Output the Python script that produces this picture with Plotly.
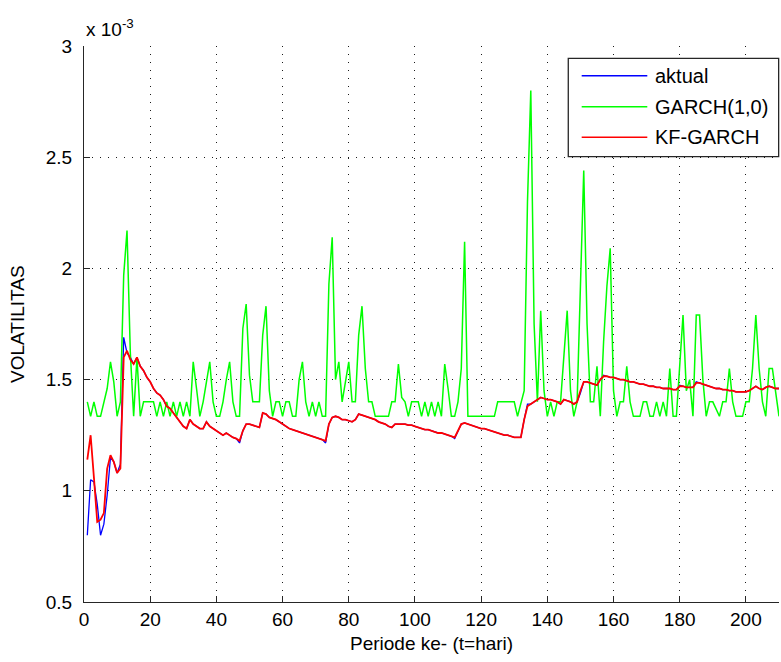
import plotly.graph_objects as go

# Values are in units of 10^-3
periode = list(range(1, 211))

garch = [
    1.40, 1.335, 1.40, 1.335, 1.335, 1.40, 1.46, 1.58, 1.49, 1.335,
    1.40, 1.97, 2.17, 1.62, 1.335, 1.60, 1.335, 1.40, 1.40, 1.40,
    1.40, 1.335, 1.40, 1.335, 1.40, 1.335, 1.40, 1.335, 1.40, 1.335,
    1.40, 1.335, 1.58, 1.46, 1.335, 1.40, 1.50, 1.58, 1.40, 1.335,
    1.335, 1.40, 1.50, 1.58, 1.40, 1.335, 1.335, 1.73, 1.84, 1.52,
    1.40, 1.40, 1.40, 1.70, 1.83, 1.45, 1.335, 1.40, 1.40, 1.335,
    1.40, 1.40, 1.335, 1.335, 1.50, 1.58, 1.40, 1.335, 1.40, 1.335,
    1.40, 1.335, 1.335, 1.93, 2.14, 1.50, 1.58, 1.40, 1.50, 1.58,
    1.40, 1.40, 1.70, 1.83, 1.55, 1.40, 1.40, 1.335, 1.335, 1.335,
    1.335, 1.335, 1.40, 1.40, 1.57, 1.42, 1.40, 1.335, 1.40, 1.40,
    1.40, 1.335, 1.40, 1.335, 1.40, 1.335, 1.40, 1.335, 1.57, 1.46,
    1.335, 1.335, 1.40, 1.55, 2.12, 1.335, 1.335, 1.335, 1.335, 1.335,
    1.335, 1.335, 1.335, 1.335, 1.40, 1.40, 1.40, 1.40, 1.40, 1.40,
    1.335, 1.40, 1.45, 2.30, 2.80, 1.75, 1.40, 1.81, 1.45, 1.335,
    1.40, 1.335, 1.40, 1.40, 1.60, 1.81, 1.45, 1.335, 1.40, 1.95,
    2.44, 1.75, 1.40, 1.40, 1.56, 1.335, 1.67, 1.92, 2.09, 1.45,
    1.335, 1.40, 1.40, 1.56, 1.40, 1.335, 1.335, 1.335, 1.40, 1.40,
    1.335, 1.335, 1.40, 1.335, 1.40, 1.335, 1.55, 1.335, 1.335, 1.55,
    1.79, 1.45, 1.50, 1.335, 1.79, 1.79, 1.50, 1.335, 1.40, 1.40,
    1.37, 1.335, 1.40, 1.40, 1.55, 1.40, 1.335, 1.335, 1.335, 1.40,
    1.40, 1.55, 1.79, 1.55, 1.40, 1.335, 1.55, 1.55, 1.45, 1.335,
]

kf_garch = [
    1.14, 1.25, 1.06, 0.86, 0.87, 0.90, 1.10, 1.16, 1.13, 1.08,
    1.10, 1.60, 1.63, 1.59, 1.57, 1.60, 1.56, 1.54, 1.51, 1.49,
    1.46, 1.44, 1.43, 1.41, 1.38, 1.37, 1.35, 1.33, 1.31, 1.29,
    1.28, 1.32, 1.30, 1.29, 1.28, 1.28, 1.31, 1.29, 1.28, 1.27,
    1.26, 1.25, 1.26, 1.25, 1.24, 1.235, 1.225, 1.27, 1.30, 1.30,
    1.295, 1.29, 1.285, 1.35, 1.345, 1.33, 1.325, 1.32, 1.31, 1.30,
    1.29, 1.28, 1.275, 1.27, 1.265, 1.26, 1.255, 1.25, 1.245, 1.24,
    1.235, 1.23, 1.225, 1.30, 1.33, 1.335, 1.33, 1.32, 1.32, 1.315,
    1.31, 1.32, 1.345, 1.34, 1.335, 1.33, 1.325, 1.32, 1.31, 1.305,
    1.30, 1.29, 1.285, 1.30, 1.30, 1.30, 1.30, 1.295, 1.295, 1.29,
    1.285, 1.28, 1.275, 1.275, 1.27, 1.265, 1.26, 1.26, 1.255, 1.25,
    1.245, 1.24, 1.27, 1.30, 1.305, 1.30, 1.295, 1.29, 1.285, 1.28,
    1.28, 1.275, 1.27, 1.265, 1.26, 1.255, 1.25, 1.25, 1.245, 1.24,
    1.24, 1.24, 1.32, 1.38, 1.39, 1.40, 1.41, 1.42, 1.415, 1.41,
    1.41, 1.405, 1.40, 1.39, 1.41, 1.405, 1.40, 1.39, 1.40, 1.45,
    1.49, 1.49, 1.485, 1.48, 1.475, 1.50, 1.515, 1.515, 1.51, 1.51,
    1.505, 1.50, 1.50, 1.495, 1.49, 1.49, 1.485, 1.48, 1.48, 1.475,
    1.47, 1.47, 1.465, 1.465, 1.46, 1.46, 1.46, 1.455, 1.455, 1.47,
    1.47, 1.465, 1.465, 1.465, 1.485, 1.485, 1.48, 1.475, 1.47, 1.465,
    1.46, 1.46, 1.455, 1.455, 1.45, 1.45, 1.445, 1.445, 1.445, 1.445,
    1.45, 1.46, 1.47, 1.46, 1.455, 1.465, 1.47, 1.465, 1.46, 1.46,
]

aktual = [
    0.80, 1.05, 1.04, 0.94, 0.80, 0.85, 0.98, 1.15, 1.13, 1.08,
    1.12, 1.69, 1.62, 1.60, 1.57, 1.60, 1.56, 1.54, 1.51, 1.49,
    1.46, 1.44, 1.43, 1.41, 1.38, 1.37, 1.35, 1.33, 1.31, 1.29,
    1.28, 1.32, 1.30, 1.29, 1.28, 1.28, 1.31, 1.29, 1.28, 1.27,
    1.26, 1.25, 1.26, 1.25, 1.24, 1.235, 1.215, 1.27, 1.30, 1.30,
    1.295, 1.29, 1.285, 1.35, 1.345, 1.33, 1.325, 1.32, 1.31, 1.30,
    1.29, 1.28, 1.275, 1.27, 1.265, 1.26, 1.255, 1.25, 1.245, 1.24,
    1.235, 1.23, 1.215, 1.30, 1.33, 1.335, 1.33, 1.32, 1.32, 1.315,
    1.31, 1.32, 1.345, 1.34, 1.335, 1.33, 1.325, 1.32, 1.31, 1.305,
    1.30, 1.29, 1.285, 1.30, 1.30, 1.30, 1.30, 1.295, 1.295, 1.29,
    1.285, 1.28, 1.275, 1.275, 1.27, 1.265, 1.26, 1.26, 1.255, 1.25,
    1.245, 1.235, 1.27, 1.30, 1.305, 1.30, 1.295, 1.29, 1.285, 1.28,
    1.28, 1.275, 1.27, 1.265, 1.26, 1.255, 1.25, 1.25, 1.245, 1.24,
    1.24, 1.24, 1.32, 1.39, 1.39, 1.40, 1.41, 1.42, 1.415, 1.41,
    1.41, 1.405, 1.40, 1.39, 1.41, 1.405, 1.40, 1.39, 1.40, 1.44,
    1.49, 1.49, 1.485, 1.48, 1.475, 1.50, 1.52, 1.515, 1.51, 1.51,
    1.505, 1.50, 1.50, 1.495, 1.49, 1.49, 1.485, 1.48, 1.48, 1.475,
    1.47, 1.47, 1.465, 1.465, 1.46, 1.46, 1.46, 1.455, 1.455, 1.475,
    1.47, 1.465, 1.465, 1.465, 1.49, 1.485, 1.48, 1.475, 1.47, 1.465,
    1.46, 1.46, 1.455, 1.455, 1.45, 1.45, 1.445, 1.445, 1.445, 1.445,
    1.45, 1.46, 1.47, 1.46, 1.455, 1.465, 1.47, 1.465, 1.46, 1.46,
]

series_names = ["aktual", "GARCH(1,0)", "KF-GARCH"]
series_colors = ["#0000ff", "#00ff00", "#ff0000"]
series_widths = [1.3, 1.5, 1.8]
x_ticks = [0, 20, 40, 60, 80, 100, 120, 140, 160, 180, 200]
y_ticks = [0.5, 1, 1.5, 2, 2.5, 3]

FONT = "Liberation Sans, Arial, Helvetica, sans-serif"
AXC = "#262626"
FS = 19

fig = go.Figure()
for name, ys, col, w in zip(series_names, [aktual, garch, kf_garch], series_colors, series_widths):
    fig.add_trace(go.Scatter(x=periode, y=ys, mode="lines", name=name,
                             line=dict(color=col, width=w), showlegend=False))

axis_common = dict(
    ticks="inside", ticklen=6, tickcolor=AXC, tickwidth=1,
    showgrid=True, gridcolor="#1a1a1a", gridwidth=1, griddash="1px,7px",
    showline=True, linecolor=AXC, linewidth=1.3, mirror=False,
    zeroline=False, tickfont=dict(family=FONT, size=FS, color="black"),
)
fig.update_xaxes(range=[0, 210], tickvals=x_ticks, ticklabelstandoff=0, **axis_common)
fig.update_yaxes(range=[0.5, 3], tickvals=y_ticks, ticklabelstandoff=7, **axis_common)

# custom MATLAB-style legend
lx0, lx1, ly0, ly1 = 0.6968, 0.9995, 0.8009, 0.9779
shapes = [dict(type="rect", xref="paper", yref="paper", x0=lx0, x1=lx1, y0=ly0, y1=ly1,
               line=dict(color=AXC, width=1.3), fillcolor="white", layer="above")]
annotations = []
row_y = [0.9466, 0.8908, 0.8358]
for name, col, yy in zip(series_names, series_colors, row_y):
    shapes.append(dict(type="line", xref="paper", yref="paper", x0=0.7161, x1=0.8105,
                       y0=yy, y1=yy, line=dict(color=col, width=1.5), layer="above"))
    annotations.append(dict(xref="paper", yref="paper", x=0.8187, y=yy, text=name,
                            showarrow=False, xanchor="left", yanchor="middle",
                            font=dict(family=FONT, size=20, color="black")))

annotations += [
    dict(xref="paper", yref="paper", x=0.0, y=1.0, xanchor="left", yanchor="bottom",
         yshift=4, text="x 10<sup>-3</sup>", showarrow=False,
         font=dict(family=FONT, size=FS, color="black")),
    dict(xref="paper", yref="paper", x=-0.0964, y=0.5, textangle=-90,
         text="VOLATILITAS", showarrow=False, xanchor="center", yanchor="middle",
         font=dict(family=FONT, size=FS, color="black")),
    dict(xref="paper", yref="paper", x=0.5, y=-0.0755, text="Periode ke- (t=hari)",
         showarrow=False, xanchor="center", yanchor="middle",
         font=dict(family=FONT, size=FS, color="black")),
]

fig.update_layout(
    width=781, height=662,
    margin=dict(l=84, r=2, t=46, b=60),
    plot_bgcolor="white", paper_bgcolor="white",
    font=dict(family=FONT, size=FS, color="black"),
    shapes=shapes, annotations=annotations, showlegend=False,
)

fig.write_html("out.html", config={"displayModeBar": False},
               post_script="document.body.style.margin='0';document.body.style.overflow='hidden';")
